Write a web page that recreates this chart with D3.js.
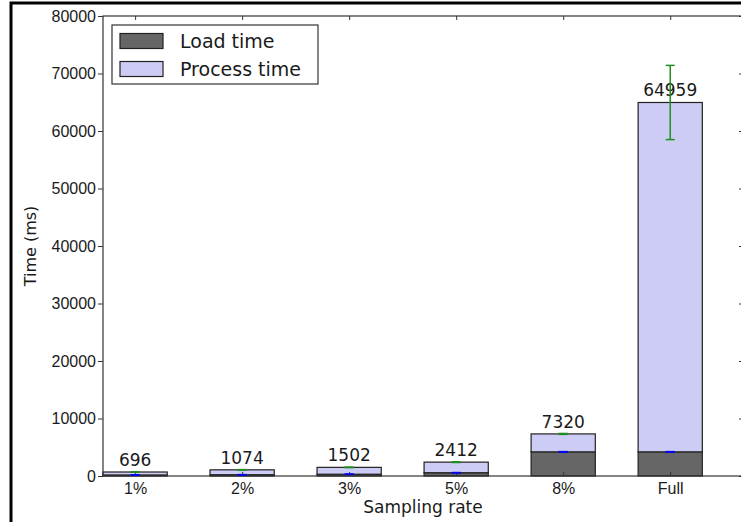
<!DOCTYPE html>
<html>
<head>
<meta charset="utf-8">
<script src="https://cdn.jsdelivr.net/npm/d3@7/dist/d3.min.js"></script>
<style>
  body { margin: 0; background: #fff; }
  svg { display: block; font-family: "DejaVu Sans", sans-serif; }
  .axis path { display: none; }
  .axis line { stroke: #333; stroke-width: 1; }
  .axis text { fill: #1a1a1a; font-size: 16px; }
</style>
</head>
<body>
<svg id="chart" width="741" height="522"></svg>
<script>
// ── Data ──────────────────────────────────────────────────────────────────────
const categories  = ["1%", "2%", "3%", "5%", "8%", "Full"];
const totalTime   = [696, 1074, 1502, 2412, 7320, 64959];
const loadTime    = [180, 220, 310, 570, 4200, 4200];
const totalErr    = [30, 40, 50, 60, 80, 6450];
const loadErr     = [20, 20, 20, 30, 40, 40];
const yTicks      = [0, 10000, 20000, 30000, 40000, 50000, 60000, 70000, 80000];
const legendItems = [
  { label: "Load time",    color: "#666666" },
  { label: "Process time", color: "#ccccf5" }
];

const svg = d3.select("#chart");
const W = 741, H = 522;
const plot = { left: 103, right: 743, top: 16, bottom: 476 };
const barW = 0.6;

// outer frame (only left/top visible)
svg.append("rect")
  .attr("x", 11).attr("y", 3).attr("width", W + 20).attr("height", H + 20)
  .attr("fill", "none").attr("stroke", "#000").attr("stroke-width", 3);

const x = d3.scaleLinear().domain([-0.3, 5.68]).range([plot.left, plot.right]);
const y = d3.scaleLinear().domain([0, 80000]).range([plot.bottom, plot.top]);

const data = categories.map((c, i) => ({
  cat: c, i, total: totalTime[i], load: loadTime[i],
  tErr: totalErr[i], lErr: loadErr[i]
}));

const g = svg.append("g");

// bars: load (bottom) + process (stacked on top)
g.selectAll("rect.load").data(data).join("rect")
  .attr("class", "load")
  .attr("x", d => x(d.i - barW / 2))
  .attr("width", d => x(d.i + barW / 2) - x(d.i - barW / 2))
  .attr("y", d => y(d.load))
  .attr("height", d => y(0) - y(d.load))
  .attr("fill", legendItems[0].color)
  .attr("stroke", "#222").attr("stroke-width", 1.2);

g.selectAll("rect.proc").data(data).join("rect")
  .attr("class", "proc")
  .attr("x", d => x(d.i - barW / 2))
  .attr("width", d => x(d.i + barW / 2) - x(d.i - barW / 2))
  .attr("y", d => y(d.total))
  .attr("height", d => y(d.load) - y(d.total))
  .attr("fill", legendItems[1].color)
  .attr("stroke", "#222").attr("stroke-width", 1.2);

// value labels
g.selectAll("text.val").data(data).join("text")
  .attr("class", "val")
  .attr("x", d => x(d.i))
  .attr("y", d => y(d.total) - 6)
  .attr("text-anchor", "middle")
  .attr("font-size", 17)
  .attr("fill", "#1a1a1a")
  .text(d => d.total);

// axes: left outward with labels, others inward
g.append("g").attr("class", "axis")
  .attr("transform", `translate(${plot.left},0)`)
  .call(d3.axisLeft(y).tickValues(yTicks).tickSize(5).tickPadding(2).tickFormat(d3.format("d")));
g.append("g").attr("class", "axis")
  .attr("transform", `translate(${plot.right},0)`)
  .call(d3.axisRight(y).tickValues(yTicks).tickSize(-4).tickFormat(""));
g.append("g").attr("class", "axis")
  .attr("transform", `translate(0,${plot.top})`)
  .call(d3.axisTop(x).tickValues(d3.range(categories.length)).tickSize(-4).tickFormat(""));
g.append("g").attr("class", "axis")
  .attr("transform", `translate(0,${plot.bottom})`)
  .call(d3.axisBottom(x).tickValues(d3.range(categories.length)).tickSize(-4).tickPadding(7)
    .tickFormat(i => categories[i]));

// spines
g.append("rect")
  .attr("x", plot.left).attr("y", plot.top)
  .attr("width", plot.right - plot.left).attr("height", plot.bottom - plot.top)
  .attr("fill", "none").attr("stroke", "#333").attr("stroke-width", 1.2);

// error bars
function errorBars(cls, color, val, err) {
  const eg = g.append("g").attr("class", cls);
  data.forEach(d => {
    const cx = x(d.i), hi = y(val(d) + err(d)), lo = y(val(d) - err(d));
    eg.append("line").attr("x1", cx).attr("x2", cx).attr("y1", hi).attr("y2", lo)
      .attr("stroke", color).attr("stroke-width", 1.5);
    [hi, lo].forEach(yy => eg.append("line")
      .attr("x1", cx - 4.5).attr("x2", cx + 4.5).attr("y1", yy).attr("y2", yy)
      .attr("stroke", color).attr("stroke-width", 1.5));
  });
}
errorBars("err-load", "#0000ff", d => d.load, d => d.lErr);
errorBars("err-total", "#1f8f1f", d => d.total, d => d.tErr);

// axis titles
svg.append("text")
  .attr("transform", `translate(30,246) rotate(-90)`)
  .attr("text-anchor", "middle").attr("dominant-baseline", "central")
  .attr("font-size", 16).attr("fill", "#1a1a1a")
  .text("Time (ms)");
svg.append("text")
  .attr("x", (plot.left + plot.right) / 2).attr("y", 513)
  .attr("text-anchor", "middle")
  .attr("font-size", 17).attr("fill", "#1a1a1a")
  .text("Sampling rate");

// legend
const lg = svg.append("g");
lg.append("rect")
  .attr("x", 112).attr("y", 25).attr("width", 206).attr("height", 59)
  .attr("fill", "#fff").attr("stroke", "#333").attr("stroke-width", 1.2);
legendItems.forEach((it, k) => {
  const cy = 41 + k * 28;
  lg.append("rect")
    .attr("x", 120).attr("y", cy - 7.5).attr("width", 43).attr("height", 15)
    .attr("fill", it.color).attr("stroke", "#222").attr("stroke-width", 1.2);
  lg.append("text")
    .attr("x", 180).attr("y", cy)
    .attr("dominant-baseline", "central")
    .attr("font-size", 19).attr("fill", "#1a1a1a")
    .text(it.label);
});
</script>
</body>
</html>
